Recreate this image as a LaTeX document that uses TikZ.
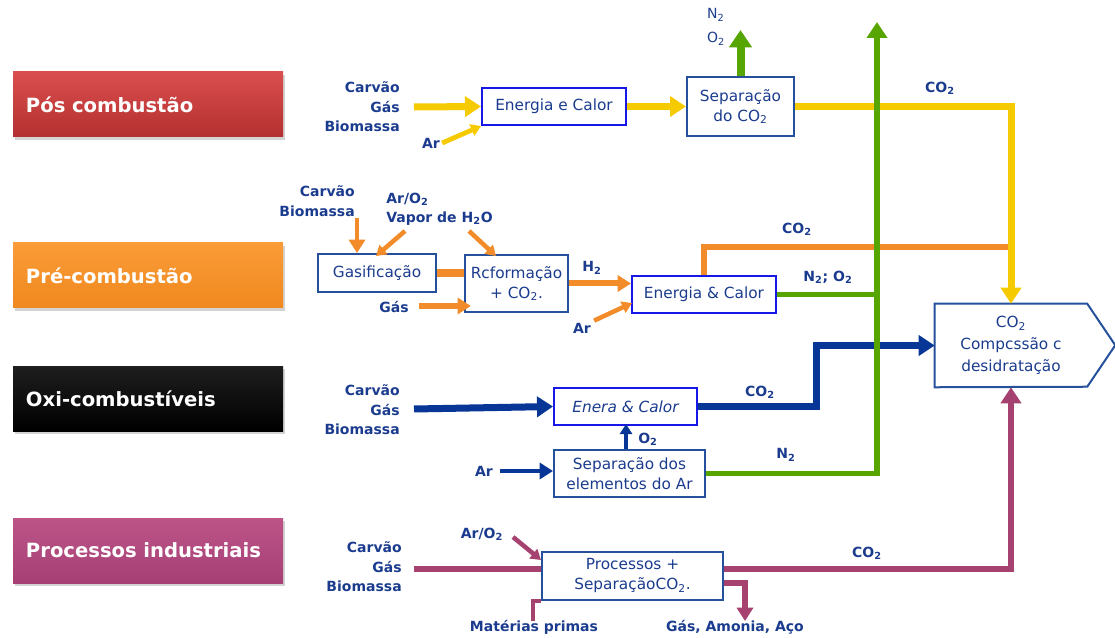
\documentclass[tikz,border=0pt]{standalone}
\usepackage{fontspec}
\setmainfont{DejaVu Sans}
\usetikzlibrary{arrows.meta,shadows,calc}
\definecolor{yel}{HTML}{F5CB00}
\definecolor{org}{HTML}{F28C2A}
\definecolor{grn}{HTML}{56A500}
\definecolor{dblu}{HTML}{073696}
\definecolor{mag}{HTML}{A5426F}
\definecolor{txtblue}{HTML}{1B3C8E}
\definecolor{boxdark}{HTML}{24509C}
\definecolor{boxbright}{HTML}{1717E8}
\begin{document}
\begin{tikzpicture}[x=0.75pt,y=-0.75pt,
  lbl/.style={font=\fontsize{10.5}{14.6}\selectfont\bfseries, text=txtblue, inner sep=0pt},
  thinlbl/.style={font=\fontsize{10.5}{18}\selectfont, text=txtblue, inner sep=0pt, align=left},
  pbox/.style={draw=boxdark, line width=1.5pt, fill=white, text=txtblue, align=center, inner sep=0pt,
    font=\fontsize{11.5}{15}\selectfont},
  ebox/.style={pbox, draw=boxbright},
  catbox/.style={text width=183pt, inner xsep=9.75pt, inner ysep=0pt, minimum height=48.75pt,
    align=left, text=white, font=\fontsize{14.7}{17}\selectfont\bfseries,
    drop shadow={shadow xshift=1.5pt, shadow yshift=-2pt, opacity=0.35}},
  yl/.style={draw=yel, line width=5.25pt},
  ylt/.style={draw=yel, line width=3.6pt},
  ol/.style={draw=org, line width=4.5pt},
  olt/.style={draw=org, line width=3.4pt},
  gl/.style={draw=grn, line width=3.75pt},
  bl/.style={draw=dblu, line width=5.25pt},
  blt/.style={draw=dblu, line width=3.4pt},
  ml/.style={draw=mag, line width=4.5pt},
  mlt/.style={draw=mag, line width=3.4pt},
  bighead/.style={-{Triangle[width=15pt,length=12pt]}},
  midhead/.style={-{Triangle[width=12pt,length=10pt]}},
  smallhead/.style={-{Triangle[width=9pt,length=7.5pt]}}
]
\useasboundingbox (0,0) rectangle (1115,638);

% category boxes
\node[catbox, top color={rgb,255:red,218;green,78;blue,78}, bottom color={rgb,255:red,180;green,48;blue,48}] (pos) at (148,104.5) {Pós combustão};
\node[catbox, top color={rgb,255:red,250;green,156;blue,56}, bottom color={rgb,255:red,240;green,136;blue,30}] (pre) at (148,275.5) {Pré-combustão};
\node[catbox, top color={rgb,255:red,30;green,30;blue,30}, bottom color=black] (oxi) at (148,398.5) {Oxi-combustíveis};
\node[catbox, top color={rgb,255:red,188;green,84;blue,136}, bottom color={rgb,255:red,166;green,64;blue,116}] (ind) at (148,550.5) {Processos industriais};

% process boxes
\node[ebox, minimum width=108pt, minimum height=27.75pt] (ec1) at (554,106.5) {Energia e Calor};
\node[pbox, minimum width=80.25pt, minimum height=44.25pt] (sep1) at (740.5,106.5) {Separação\\do CO\textsubscript{2}};
\node[pbox, minimum width=88.5pt, minimum height=28.5pt] (gas) at (377,273) {Gasificação};
\node[pbox, minimum width=77.25pt, minimum height=42.75pt] (ref) at (516.5,283.5) {Rcformação\\+ CO\textsubscript{2}.};
\node[ebox, minimum width=108pt, minimum height=27.75pt] (ec2) at (704,294.5) {Energia \& Calor};
\node[ebox, minimum width=107.25pt, minimum height=27.75pt, font=\fontsize{11.5}{15}\selectfont\itshape] (ec3) at (625.5,406.5) {Enera \& Calor};
\node[pbox, minimum width=113.25pt, minimum height=35.25pt] (sep3) at (629.5,473.5) {Separação dos\\elementos do Ar};
\node[pbox, minimum width=135.75pt, minimum height=36pt] (proc) at (632.5,576) {Processos +\\SeparaçãoCO\textsubscript{2}.};
\node[text=txtblue, align=center, inner sep=0pt, minimum width=114pt, minimum height=62.25pt,
  font=\fontsize{11.5}{16.5}\selectfont] (comp) at (1011,345.5) {CO\textsubscript{2}\\Compcssão c\\desidratação};
\draw[draw=boxdark, line width=1.5pt] (comp.north west) -- (comp.north east) -- ++(28,41.5) -- ++(-28,41.5) -- (comp.south west) -- cycle;

% labels
\node[lbl, align=right, anchor=east] (src1) at (400,107) {Carvão\\Gás\\Biomassa};
\node[lbl] (ar1) at (431,143) {Ar};
\node[thinlbl] (n2o2) at (716,27) {N\textsubscript{2}\\O\textsubscript{2}};
\node[lbl] (co2a) at (940,88) {CO\textsubscript{2}};

\node[lbl, align=right, anchor=east] (cb2) at (355,201) {Carvão\\Biomassa};
\node[lbl, align=left, anchor=west] (av2) at (386,209) {Ar/O\textsubscript{2}\\Vapor de H\textsubscript{2}O};
\node[lbl] (gas2) at (394,307) {Gás};
\node[lbl] (h2) at (592,268) {H\textsubscript{2}};
\node[lbl] (ar2) at (582,328) {Ar};
\node[lbl] (co2b) at (797,229) {CO\textsubscript{2}};
\node[lbl] (n2o2b) at (828,277) {N\textsubscript{2}; O\textsubscript{2}};

\node[lbl, align=right, anchor=east] (src3) at (400,410) {Carvão\\Gás\\Biomassa};
\node[lbl] (co2c) at (760,392) {CO\textsubscript{2}};
\node[lbl] (o2) at (648,439) {O\textsubscript{2}};
\node[lbl] (ar3) at (484,471) {Ar};
\node[lbl] (n2) at (786,455) {N\textsubscript{2}};

\node[lbl, align=right, anchor=east] (src4) at (402,567) {Carvão\\Gás\\Biomassa};
\node[lbl] (aro4) at (482,534) {Ar/O\textsubscript{2}};
\node[lbl] (co2d) at (867,553) {CO\textsubscript{2}};
\node[lbl] (mat) at (534,627) {Matérias primas};
\node[lbl] (prod) at (735,627) {Gás, Amonia, Aço};

% coordinates
\coordinate (gtop) at (877,22);
\coordinate (gbot) at (877,476);
\coordinate (n2tip) at (740.5,30);
\coordinate (oend) at (1011,247);
\coordinate (cbt) at (357,218);
\coordinate (a2s) at (405,231);
\coordinate (a2e) at (376,256);
\coordinate (v2s) at (469,231);
\coordinate (v2e) at (496,256);
\coordinate (ar2e) at (632,303);
\coordinate (m4s) at (414,569);
\coordinate (m4a) at (513,537);
\coordinate (m4b) at (541,560);
\coordinate (pout) at (745,583);
\coordinate (ptip) at (745,621);
\coordinate (mbot) at (533,621);

% row 1
\draw[yl,bighead] ($(src1.east)+(14,0)$) -- (ec1.west);
\draw[ylt,smallhead] ($(ar1.east)+(2,0)$) -- (ec1.south west);
\draw[yl,bighead] (ec1.east) -- (sep1.west);
\draw[draw=grn, line width=6pt, -{Triangle[width=16.5pt,length=13pt]}] (sep1.north) -- (n2tip);

% row 2
\draw[olt,midhead] (cbt) -- (cbt |- gas.north);
\draw[olt,smallhead] (a2s) -- (a2e);
\draw[olt,smallhead] (v2s) -- (v2e);
\draw[draw=org, line width=6pt] (gas.east) -- (gas.east -| ref.west);
\draw[ol,midhead] ($(gas2.east)+(10,-1)$) -- ++(52,0);
\draw[ol,midhead] (ref.east) -- (ref.east -| ec2.west);
\draw[olt,smallhead] ($(ar2.north east)+(3,-2)$) -- (ar2e);
\draw[ol] (ec2.north) |- (oend);
\draw[gl] (ec2.east) -- (ec2.east -| gbot);

% yellow CO2 to compression
\draw[yl,bighead] (sep1.east) -| (comp.north);

% row 3
\draw[bl,bighead] ($(src3.east)+(14,-1)$) -- (ec3.west);
\draw[bl,bighead] (ec3.east) -| ($(ec3.east)!0.5!(comp.west)$) |- (comp.west);
\draw[blt,smallhead] (sep3.north -| o2.west) ++(-12,0) -- ++(0,-25);
\draw[blt,midhead] ($(ar3.east)+(7,0)$) -- (ar3.east -| sep3.west);
\draw[gl] (sep3.east) -- (sep3.east -| gbot);

% row 4
\draw[ml] (m4s) -- (m4s -| proc.west);
\draw[mlt,smallhead] (m4a) -- (m4b);
\draw[ml,bighead] (m4s -| proc.east) -| (comp.south);
\draw[ml,midhead] (pout -| proc.east) -- (pout) -- (ptip);
\draw[mlt] (mbot) |- (proc.south west);

% green trunk
\draw[draw=grn, line width=4.5pt, bighead] (gbot) -- (gtop);
\end{tikzpicture}
\end{document}
